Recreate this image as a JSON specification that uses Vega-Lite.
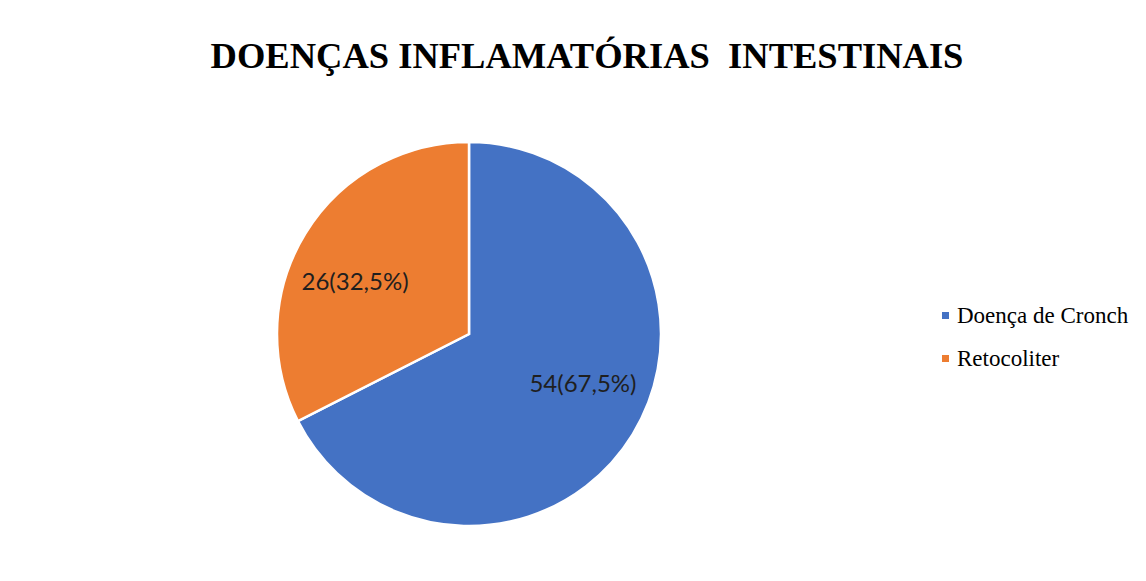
{
  "$schema": "https://vega.github.io/schema/vega-lite/v6.json",
  "width": 384,
  "height": 384,
  "autosize": {"type": "none"},
  "padding": {"left": 277, "top": 142, "right": 485, "bottom": 55},
  "background": "white",
  "title": {
    "text": "DOENÇAS INFLAMATÓRIAS\u00a0 INTESTINAIS",
    "font": "Liberation Serif",
    "fontSize": 36.5,
    "fontWeight": "bold",
    "color": "#000000",
    "anchor": "middle",
    "dx": 118,
    "baseline": "alphabetic",
    "offset": 33
  },
  "data": {
    "values": [
      {"categoria": "Doença de Cronch", "valor": 54, "rotulo": "54(67,5%)", "ordem": 1},
      {"categoria": "Retocoliter", "valor": 26, "rotulo": "26(32,5%)", "ordem": 2}
    ]
  },
  "encoding": {
    "theta": {"field": "valor", "type": "quantitative", "stack": true},
    "order": {"field": "ordem", "type": "quantitative"},
    "color": {
      "field": "categoria",
      "type": "nominal",
      "scale": {"domain": ["Doença de Cronch", "Retocoliter"], "range": ["#4472C4", "#ED7D31"]},
      "legend": {
        "title": null,
        "orient": "none",
        "legendX": 657,
        "legendY": 162,
        "padding": 0,
        "symbolType": "square",
        "symbolSize": 49,
        "symbolStrokeWidth": 0,
        "labelFont": "Liberation Serif",
        "labelFontSize": 23,
        "labelColor": "#000000",
        "labelOffset": 0,
        "labelLimit": 400,
        "rowPadding": 19
      }
    }
  },
  "layer": [
    {
      "mark": {"type": "arc", "radius": 192, "stroke": "white", "strokeWidth": 2.5}
    },
    {
      "mark": {
        "type": "text",
        "radius": 125,
        "thetaOffset": -0.126,
        "font": "Lato",
        "fontSize": 24,
        "fill": "#1f1f1f",
        "align": "center",
        "baseline": "middle"
      },
      "encoding": {
        "text": {"field": "rotulo", "type": "nominal"},
        "color": {"value": "#1f1f1f"}
      }
    }
  ]
}
